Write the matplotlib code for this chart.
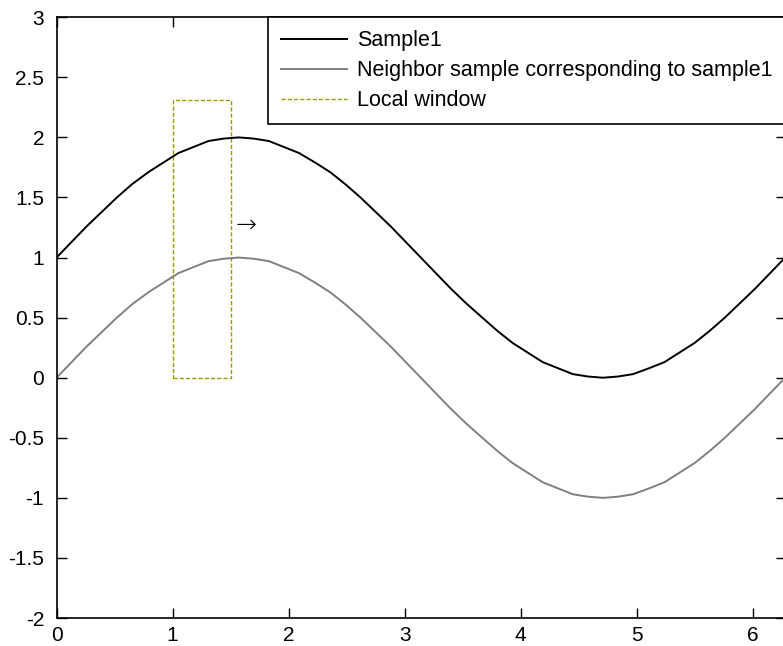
import matplotlib
matplotlib.use('Agg')
import matplotlib.pyplot as plt
from matplotlib.patches import Rectangle
from matplotlib.lines import Line2D

plt.rcParams['font.family'] = ['Liberation Sans', 'DejaVu Sans']

# values
x = [0.0, 0.13, 0.26, 0.39, 0.52, 0.65, 0.79, 0.92, 1.05, 1.18, 1.31, 1.44,
     1.57, 1.70, 1.83, 1.96, 2.09, 2.23, 2.36, 2.49, 2.62, 2.75, 2.88, 3.01,
     3.14, 3.27, 3.40, 3.53, 3.67, 3.80, 3.93, 4.06, 4.19, 4.32, 4.45, 4.58,
     4.71, 4.84, 4.97, 5.11, 5.24, 5.37, 5.50, 5.63, 5.76, 5.89, 6.02, 6.15, 6.28]
neighbor = [0.0, 0.13, 0.26, 0.38, 0.5, 0.61, 0.71, 0.79, 0.87, 0.92, 0.97, 0.99,
            1.0, 0.99, 0.97, 0.92, 0.87, 0.79, 0.71, 0.61, 0.5, 0.38, 0.26, 0.13,
            0.0, -0.13, -0.26, -0.38, -0.5, -0.61, -0.71, -0.79, -0.87, -0.92, -0.97, -0.99,
            -1.0, -0.99, -0.97, -0.92, -0.87, -0.79, -0.71, -0.61, -0.5, -0.38, -0.26, -0.13, 0.0]
sample1 = [1.0, 1.13, 1.26, 1.38, 1.5, 1.61, 1.71, 1.79, 1.87, 1.92, 1.97, 1.99,
           2.0, 1.99, 1.97, 1.92, 1.87, 1.79, 1.71, 1.61, 1.5, 1.38, 1.26, 1.13,
           1.0, 0.87, 0.74, 0.62, 0.5, 0.39, 0.29, 0.21, 0.13, 0.08, 0.03, 0.01,
           0.0, 0.01, 0.03, 0.08, 0.13, 0.21, 0.29, 0.39, 0.5, 0.62, 0.74, 0.87, 1.0]

# local window box
win_x0, win_x1 = 1.0, 1.5
win_y0, win_y1 = 0.0, 2.31

win_color = '#999900'
win_style = (0, (3, 1.5))

fig = plt.figure(figsize=(7.83, 6.46), dpi=100)
ax = fig.add_axes([0.0722, 0.0433, 0.931, 0.930])

ax.plot(x, sample1, color='black', lw=1.4)
ax.plot(x, neighbor, color='#808080', lw=1.4)
ax.add_patch(Rectangle((win_x0, win_y0), win_x1 - win_x0, win_y1 - win_y0,
                       fill=False, edgecolor=win_color, lw=1.0, linestyle=win_style))
ax.text(1.54, 1.27, '\u2192', fontsize=18, va='center', ha='left',
        family=['DejaVu Sans'], fontweight='light')

ax.set_xlim(0, 6.2832)
ax.set_ylim(-2, 3)
ax.set_xticks([0, 1, 2, 3, 4, 5, 6])
ax.set_yticks([-2, -1.5, -1, -0.5, 0, 0.5, 1, 1.5, 2, 2.5, 3])
ax.set_yticklabels(['-2', '-1.5', '-1', '-0.5', '0', '0.5', '1', '1.5', '2', '2.5', '3'])
ax.tick_params(direction='in', top=True, right=True, labelsize=15, length=7, width=1)
ax.tick_params(axis='y', pad=9)
ax.tick_params(axis='x', pad=6)
for s in ax.spines.values():
    s.set_linewidth(1.2)

handles = [Line2D([], [], color='black', lw=1.4),
           Line2D([], [], color='#808080', lw=1.4),
           Line2D([], [], color=win_color, lw=1.0, linestyle=win_style)]
leg = ax.legend(handles, ['Sample1', 'Neighbor sample corresponding to sample1', 'Local window'],
                loc='upper right', bbox_to_anchor=(1.0, 1.0), borderaxespad=0,
                fontsize=15.5, fancybox=False, framealpha=1, edgecolor='black',
                handlelength=3.1, handletextpad=0.45, labelspacing=0.42,
                borderpad=0.6)
leg.get_frame().set_linewidth(1.2)

fig.savefig('out.png', dpi=100)
